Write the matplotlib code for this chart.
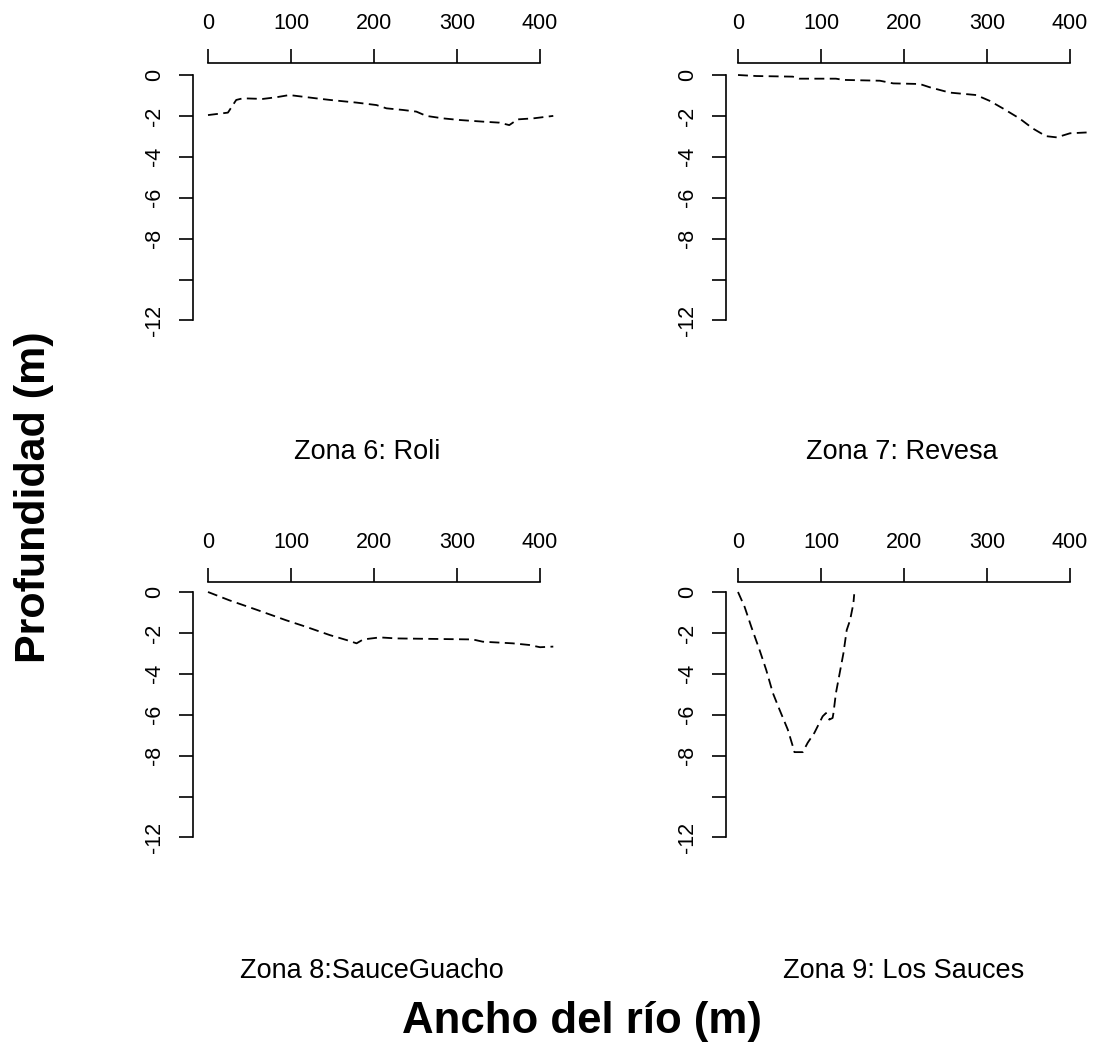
import numpy as np
import matplotlib
matplotlib.use("Agg")
import matplotlib.pyplot as plt

plt.rcParams['font.family'] = ['Liberation Sans', 'DejaVu Sans']

# datos: ancho (m) y profundidad (m)
roli_x = [0, 24, 34, 42, 66, 82, 98, 114, 130, 147, 179, 203, 215, 235, 251,
          263, 283, 303, 331, 351, 363, 373, 392, 416]
roli_y = [-1.96, -1.84, -1.22, -1.14, -1.17, -1.09, -0.98, -1.06, -1.14, -1.22,
          -1.35, -1.47, -1.63, -1.71, -1.79, -2.0, -2.12, -2.2, -2.28, -2.33,
          -2.45, -2.17, -2.12, -2.0]

revesa_x = [0, 22, 66, 74, 118, 127, 171, 187, 219, 231, 255, 287, 303, 319,
            339, 355, 371, 384, 400, 420]
revesa_y = [0.0, -0.05, -0.08, -0.18, -0.18, -0.24, -0.28, -0.41, -0.44, -0.6,
            -0.86, -0.98, -1.26, -1.63, -2.12, -2.61, -2.99, -3.05, -2.85, -2.81]

guacho_x = [0, 26, 58, 94, 118, 147, 167, 179, 187, 207, 227, 319, 331, 367,
            387, 400, 416]
guacho_y = [0.0, -0.41, -0.86, -1.38, -1.7, -2.11, -2.35, -2.51, -2.32, -2.22,
            -2.27, -2.32, -2.43, -2.51, -2.59, -2.7, -2.67]

sauces_x = [0, 8, 16, 26, 34, 42, 50, 60, 66, 68, 78, 84, 92, 102, 106, 110,
            114, 115, 118, 127, 131, 135, 139, 140]
sauces_y = [0.0, -0.73, -1.7, -2.84, -3.81, -4.94, -5.75, -6.73, -7.54, -7.83,
            -7.83, -7.37, -6.89, -6.08, -5.92, -6.24, -6.16, -5.92, -4.94, -3.0,
            -1.86, -1.38, -0.57, -0.11]

titulos = ["Zona 6: Roli", "Zona 7: Revesa", "Zona 8:SauceGuacho", "Zona 9: Los Sauces"]
x_ticks = [0, 100, 200, 300, 400]
y_ticks = [0, -2, -4, -6, -8, -10, -12]
y_labels = ["0", "-2", "-4", "-6", "-8", "", "-12"]

W, H = 1095, 1049
fig = plt.figure(figsize=(W / 100, H / 100), dpi=100)

SX = 0.83    # px por metro (ancho)
SY = 20.45   # px por metro (profundidad)


def panel(left_px, x0_px, top_px, y0_px):
    xmin = -(x0_px - left_px) / SX
    xmax = 430
    ymax = (y0_px - top_px) / SY
    ymin = -12.6
    w = (xmax - xmin) * SX
    h = (ymax - ymin) * SY
    ax = fig.add_axes([left_px / W, 1 - (top_px + h) / H, w / W, h / H])
    ax.set_xlim(xmin, xmax)
    ax.set_ylim(ymin, ymax)
    ax.patch.set_visible(False)
    for s in ['bottom', 'right']:
        ax.spines[s].set_visible(False)
    ax.spines['top'].set_bounds(0, 400)
    ax.spines['left'].set_bounds(-12, 0)
    for s in ['top', 'left']:
        ax.spines[s].set_linewidth(1.2)
    ax.xaxis.tick_top()
    ax.set_xticks(x_ticks)
    ax.set_xticklabels([str(t) for t in x_ticks])
    ax.set_yticks(y_ticks)
    ax.set_yticklabels(y_labels, rotation=90, va='center')
    ax.tick_params(axis='x', direction='out', length=10, width=1.2, pad=11, labelsize=15.5)
    ax.tick_params(axis='y', direction='out', length=10, width=1.2, pad=10, labelsize=15.5)
    return ax


datos = [(roli_x, roli_y), (revesa_x, revesa_y), (guacho_x, guacho_y), (sauces_x, sauces_y)]
geo = [(193, 208, 63, 75), (726, 738, 63, 75), (193, 208, 582, 592), (726, 738, 582, 592)]
tit_pos = [(367, 459), (902, 459), (372, 978), (904, 978)]

for (xs, ys), g, t, tp in zip(datos, geo, titulos, tit_pos):
    ax = panel(*g)
    ax.plot(xs, ys, color='black', lw=1.3, dashes=(5.5, 3), clip_on=False)
    fig.text(tp[0] / W, 1 - tp[1] / H, t, ha='center', va='baseline', fontsize=19.5)

fig.text(34 / W, 1 - 497 / H, "Profundidad (m)", rotation=90, ha='center', va='center',
         fontsize=31, fontweight='bold')
fig.text(582 / W, 1 - 1033 / H, "Ancho del río (m)", ha='center', va='baseline',
         fontsize=31.5, fontweight='bold')

fig.savefig("out.png", dpi=100)
